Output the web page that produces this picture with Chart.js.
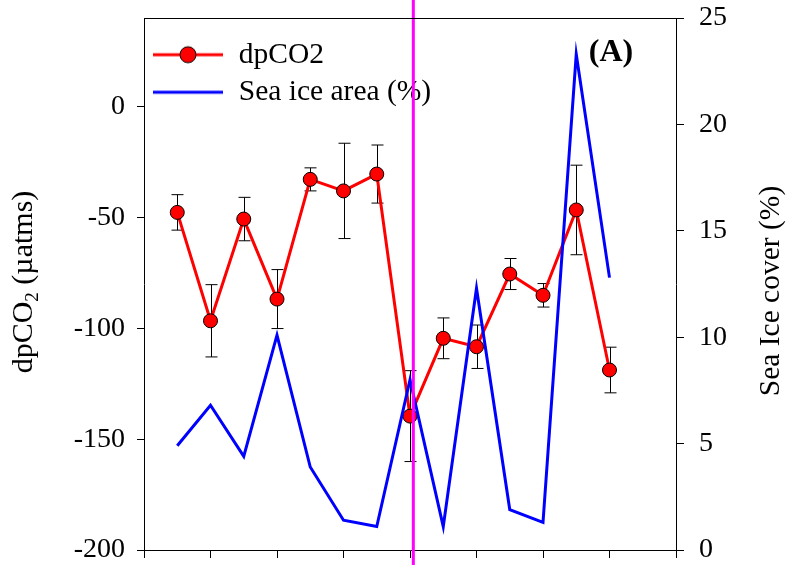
<!DOCTYPE html>
<html lang="en">
<head>
<meta charset="UTF-8">
<title>dpCO2 and sea ice cover</title>
<script src="https://cdn.jsdelivr.net/npm/chart.js"></script>
<style>
    body { margin: 0; background: #fff; }
    #chart { display: block; }
</style>
</head>
<body>
<canvas id="chart" width="786" height="565"></canvas>
<script>
    // sampling stations along the transect
    const stations = [1, 2, 3, 4, 5, 6, 7, 8, 9, 10, 11, 12, 13, 14];
    const dpco2 = [-47.7, -96.6, -50.7, -86.8, -32.8, -38.0, -30.4, -139.6, -104.5, -108.3, -75.5, -85.1, -46.6, -118.8];
    const dpco2Err = [8.0, 16.3, 9.8, 13.3, 5.2, 21.5, 13.1, 20.5, 9.2, 9.8, 7.0, 5.3, 20.2, 10.3];
    const seaIce = [4.9, 6.8, 4.4, 10.1, 3.9, 1.4, 1.1, 8.0, 1.1, 12.3, 1.9, 1.3, 23.3, 12.8];
    const xTicks = [0, 2, 4, 6, 8, 10, 12, 14, 16];
    const leftTicks = [-200, -150, -100, -50, 0];
    const rightTicks = [0, 5, 10, 15, 20, 25];
    const boundaryStation = 8.1;

    const serif = "'Liberation Serif', 'Times New Roman', serif";

    function legendIcon(withMarker, color) {
        const c = document.createElement('canvas');
        c.width = 70; c.height = 20;
        const g = c.getContext('2d');
        g.strokeStyle = color; g.lineWidth = 3;
        g.beginPath(); g.moveTo(0, 10); g.lineTo(70, 10); g.stroke();
        if (withMarker) {
            g.beginPath(); g.arc(35, 10, 8, 0, Math.PI * 2);
            g.fillStyle = '#ff0000'; g.fill();
            g.lineWidth = 1; g.strokeStyle = '#000'; g.stroke();
        }
        return c;
    }

    // vertical error bars under the dpCO2 markers
    const errorBars = {
        id: 'errorBars',
        beforeDatasetsDraw(chart) {
            const { ctx, scales: { x, y } } = chart;
            ctx.save();
            ctx.strokeStyle = '#000';
            ctx.lineWidth = 1;
            stations.forEach((s, i) => {
                const px = Math.round(x.getPixelForValue(s)) + 0.5;
                const top = y.getPixelForValue(dpco2[i] + dpco2Err[i]);
                const bot = y.getPixelForValue(dpco2[i] - dpco2Err[i]);
                ctx.beginPath();
                ctx.moveTo(px, top); ctx.lineTo(px, bot);
                ctx.moveTo(px - 6, top); ctx.lineTo(px + 6, top);
                ctx.moveTo(px - 6, bot); ctx.lineTo(px + 6, bot);
                ctx.stroke();
            });
            ctx.restore();
        }
    };

    // frame, panel label and the two axis titles
    const decorations = {
        id: 'decorations',
        afterDraw(chart) {
            const { ctx, chartArea: a } = chart;
            ctx.save();
            ctx.strokeStyle = '#000';
            ctx.lineWidth = 1;
            ctx.beginPath();
            ctx.moveTo(a.left, a.top + 0.5);
            ctx.lineTo(a.right, a.top + 0.5);
            ctx.stroke();

            ctx.fillStyle = '#000';
            ctx.font = 'bold 32px ' + serif;
            ctx.textAlign = 'center';
            ctx.textBaseline = 'middle';
            ctx.fillText('(A)', 611, 53);

            // left title with subscript 2
            ctx.save();
            ctx.translate(32, 282);
            ctx.rotate(-Math.PI / 2);
            ctx.textBaseline = 'alphabetic';
            ctx.textAlign = 'left';
            const big = '30px ' + serif, small = '19px ' + serif;
            ctx.font = big;
            const w1 = ctx.measureText('dpCO').width;
            const w3 = ctx.measureText(' (µatms)').width;
            ctx.font = small;
            const w2 = ctx.measureText('2').width;
            let tx = -(w1 + w2 + w3) / 2;
            ctx.font = big;
            ctx.fillText('dpCO', tx, 0);
            tx += w1;
            ctx.font = small;
            ctx.fillText('2', tx, 6);
            tx += w2;
            ctx.font = big;
            ctx.fillText(' (µatms)', tx, 0);
            ctx.restore();

            // right title
            ctx.save();
            ctx.translate(779, 291);
            ctx.rotate(-Math.PI / 2);
            ctx.font = '29.5px ' + serif;
            ctx.textAlign = 'center';
            ctx.textBaseline = 'alphabetic';
            ctx.fillText('Sea Ice cover (%)', 0, 0);
            ctx.restore();
            ctx.restore();
        }
    };

    const tickFont = { family: serif, size: 28 };

    // keep the plot box fixed regardless of label overhang
    function fixWidth(w) {
        return s => { s.width = w; s.paddingTop = 0; s.paddingBottom = 0; };
    }

    new Chart(document.getElementById('chart'), {
        type: 'line',
        data: {
            datasets: [
                {
                    label: 'boundary',
                    data: [{ x: boundaryStation, y: -220 }, { x: boundaryStation, y: 60 }],
                    yAxisID: 'y',
                    borderColor: '#ff00ff',
                    borderWidth: 3,
                    pointRadius: 0,
                    clip: false,
                    order: 0
                },
                {
                    label: 'Sea ice area (%)',
                    data: stations.map((s, i) => ({ x: s, y: seaIce[i] })),
                    yAxisID: 'y2',
                    borderColor: '#0000ff',
                    borderWidth: 3,
                    pointRadius: 0,
                    order: 1
                },
                {
                    label: 'dpCO2',
                    data: stations.map((s, i) => ({ x: s, y: dpco2[i] })),
                    yAxisID: 'y',
                    borderColor: '#ff0000',
                    borderWidth: 3,
                    pointRadius: 7,
                    pointBackgroundColor: '#ff0000',
                    pointBorderColor: '#000',
                    pointBorderWidth: 1,
                    order: 2
                }
            ]
        },
        options: {
            responsive: false,
            animation: false,
            layout: { padding: { top: 18, left: 0, right: 0, bottom: 0 } },
            scales: {
                x: {
                    type: 'linear',
                    min: 0, max: 16,
                    afterBuildTicks: s => { s.ticks = xTicks.map(v => ({ value: v })); },
                    afterFit: s => { s.height = 15; s.paddingLeft = 0; s.paddingRight = 0; },
                    ticks: { display: false },
                    grid: { drawOnChartArea: false, drawTicks: true, tickLength: 8, color: '#000' },
                    border: { display: true, color: '#000', width: 1 }
                },
                y: {
                    position: 'left',
                    min: -200, max: 40,
                    afterBuildTicks: s => { s.ticks = leftTicks.map(v => ({ value: v })); },
                    afterFit: fixWidth(144),
                    ticks: { font: tickFont, color: '#000', padding: 12 },
                    grid: { drawOnChartArea: false, drawTicks: true, tickLength: 7, color: '#000' },
                    border: { display: true, color: '#000', width: 1 }
                },
                y2: {
                    position: 'right',
                    min: 0, max: 25,
                    afterBuildTicks: s => { s.ticks = rightTicks.map(v => ({ value: v })); },
                    afterFit: fixWidth(110),
                    ticks: { font: tickFont, color: '#000', padding: 15 },
                    grid: { drawOnChartArea: false, drawTicks: true, tickLength: 8, color: '#000' },
                    border: { display: true, color: '#000', width: 1 }
                }
            },
            plugins: {
                tooltip: { enabled: false },
                legend: {
                    position: 'chartArea',
                    align: 'start',
                    title: { display: true, text: '', padding: 0, font: { size: 32, lineHeight: 1 } },
                    labels: {
                        usePointStyle: true,
                        pointStyleWidth: 72,
                        padding: 8,
                        color: '#000',
                        font: { family: serif, size: 29.5 },
                        generateLabels: () => [
                            { text: 'dpCO2', pointStyle: legendIcon(true, '#ff0000'), fontColor: '#000', hidden: false, datasetIndex: 2 },
                            { text: 'Sea ice area (%)', pointStyle: legendIcon(false, '#0000ff'), fontColor: '#000', hidden: false, datasetIndex: 1 }
                        ]
                    }
                }
            }
        },
        plugins: [errorBars, decorations]
    });
</script>
</body>
</html>
